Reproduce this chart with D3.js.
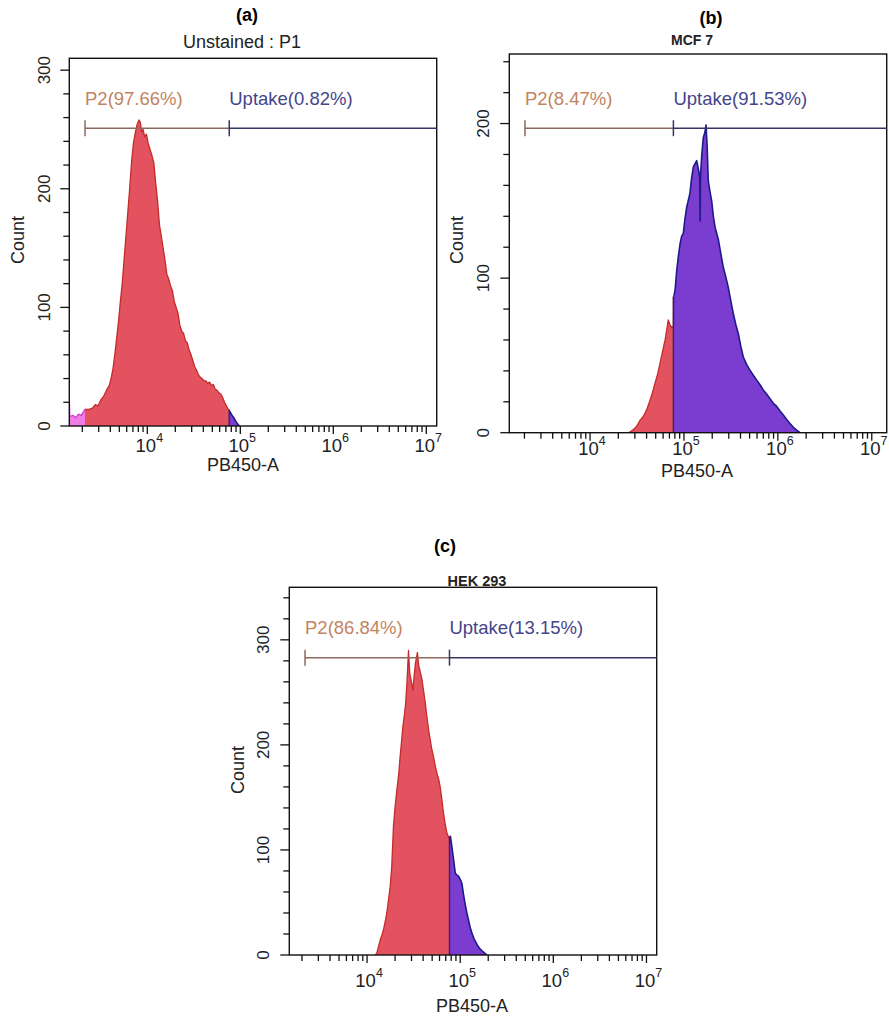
<!DOCTYPE html>
<html>
<head>
<meta charset="utf-8">
<script src="https://cdn.jsdelivr.net/npm/d3@7"></script>
<style>
  body { margin: 0; background: #fff; }
  svg { display: block; }
  text { font-family: "Liberation Sans", Arial, sans-serif; }
</style>
</head>
<body>
<svg id="fig" width="889" height="1018"></svg>
<script>
// ---------- data: PB450-A histograms (log10 intensity, event count) ----------
const logA = [3.161,3.166,3.20,3.23,3.26,3.29,3.33,3.37,3.41,3.44,3.47,3.50,3.53,3.56,3.59,3.61,3.63,3.65,3.67,3.69,3.71,3.73,3.75,3.77,3.79,3.81,3.83,3.85,3.87,3.89,3.91,3.925,3.94,3.955,3.97,3.99,4.01,4.03,4.05,4.07,4.09,4.11,4.13,4.15,4.17,4.19,4.21,4.23,4.25,4.27,4.29,4.31,4.33,4.35,4.37,4.39,4.41,4.43,4.45,4.47,4.49,4.51,4.53,4.55,4.57,4.59,4.61,4.63,4.65,4.67,4.69,4.71,4.73,4.75,4.77,4.79,4.81,4.83,4.85,4.87,4.89,4.91,4.93,4.95,4.97,4.99];
const countA = [25,8,9,7,10,9,14,14,15,18,17,22,25,30,34,40,48,60,74,88,105,120,140,160,180,200,222,238,247,254,258,256,248,250,244,246,238,233,228,222,205,190,170,160,150,140,128,124,118,114,105,100,95,85,80,78,72,70,64,60,55,50,47,43,41,40,38,38,36,37,34,35,31,30,28,27,24,20,17,14,12,9,7,4,2,0];

const logB = [4.41,4.425,4.45,4.479,4.505,4.532,4.56,4.585,4.61,4.639,4.665,4.692,4.72,4.745,4.77,4.799,4.815,4.833,4.85,4.869,4.887,4.888,4.905,4.923,4.94,4.958,4.975,4.993,5.01,5.029,5.045,5.064,5.08,5.1,5.118,5.136,5.155,5.168,5.172,5.176,5.19,5.206,5.222,5.235,5.247,5.259,5.277,5.295,5.313,5.331,5.348,5.366,5.392,5.419,5.445,5.472,5.5,5.526,5.552,5.579,5.605,5.632,5.668,5.703,5.74,5.775,5.81,5.845,5.88,5.916,5.952,5.988,6.023,6.058,6.094,6.129,6.165,6.2,6.236];
const countB = [0,0.5,1.5,3,5,8,10,12.5,16,21,26,32,38,45,52,60,66,73,70,68,69,88,92,105,114,122,127,129,138,146,150,155,164,172,174,176,170,165,137,166,180,191,194,199,185,163,156,150,140,133,129,125,116,107,101,94,85,77,70,64,56,49,44,40.5,37,34,31,27.6,25,22,19,17,14,11.4,8.5,6,3.5,1.7,0];

const logC = [4.09,4.105,4.12,4.14,4.16,4.176,4.195,4.212,4.23,4.248,4.265,4.283,4.30,4.32,4.34,4.355,4.37,4.384,4.40,4.415,4.43,4.445,4.458,4.47,4.492,4.505,4.52,4.541,4.555,4.57,4.59,4.606,4.625,4.642,4.66,4.678,4.695,4.713,4.73,4.75,4.77,4.785,4.80,4.821,4.84,4.857,4.872,4.885,4.895,4.911,4.93,4.947,4.965,4.982,5.00,5.019,5.035,5.054,5.072,5.09,5.108,5.126,5.15,5.18,5.21,5.234,5.26,5.288];
const countC = [0,2,7,14,19,24,32,40,52,65,84,122,140,157,172,189,203,217,228,240,262,290,268,263,252,265,278,288,275,270,262,252,240,227,215,205,196,189,181,173,167,160,150,135,124,116,113,110,113,103,90,78,76,75,72,68,58,48,40,33,26,21,15,10,6,4,2,0];

// gates: [P2 start, Uptake start] in log10 units, and the count level of each gate bar
const gatesA = [3.33, 4.881];
const gatesB = [3.307, 4.8875];
const gatesC = [3.334, 4.885];
const gateLevels = [251, 197, 283];
const p2Labels = ["P2(97.66%)", "P2(8.47%)", "P2(86.84%)"];
const uptakeLabels = ["Uptake(0.82%)", "Uptake(91.53%)", "Uptake(13.15%)"];

// axes
const xDomains = [[3.161, 7.112], [3.14, 7.159], [3.165, 7.11]];
const yMaxes = [310, 245, 350];
const decadeLabels = [4, 5, 6, 7];
const panelTags = ["(a)", "(b)", "(c)"];
const subtitles = ["Unstained : P1", "MCF 7", "HEK 293"];

// ---------- layout ----------
const layouts = [
  { left: 69.3, top: 58.3, w: 367.4, h: 367.7, tag: [247, 15], sub: [242, 42], subBold: false, subSize: 18,
    count: [18, 240], yLabX: 44, xLabY: 445, xTitle: [243, 465] },
  { left: 509.3, top: 54, w: 377.4, h: 378.7, tag: [711, 18], sub: [692, 40], subBold: true, subSize: 14,
    count: [457, 240], yLabX: 483, xLabY: 448, xTitle: [697, 471] },
  { left: 289.3, top: 587.3, w: 367.4, h: 367.7, tag: [445, 546], sub: [477, 581], subBold: true, subSize: 14.5,
    count: [238, 770], yLabX: 263, xLabY: 980, xTitle: [472, 1006] }
];

const colors = {
  pinkFill: "#f07ce6", pinkLine: "#d23ccc",
  redFill: "#e3525f", redLine: "#c42b2b",
  purpleFill: "#7a3dd0", purpleLine: "#1d1a8a",
  p2Text: "#c2845f", p2Gate: "#8e6a5c",
  upText: "#45458a", upGate: "#343466",
  axis: "#111"
};

const svg = d3.select("#fig");
const panels = [
  { logX: logA, counts: countA, gates: gatesA },
  { logX: logB, counts: countB, gates: gatesB },
  { logX: logC, counts: countC, gates: gatesC }
];

// count on the histogram outline at a given log position
function countAt(xs, cs, v) {
  const k = d3.bisectRight(xs, v);
  if (k <= 0) return cs[0];
  if (k >= xs.length) return cs[cs.length - 1];
  return Math.max(cs[k - 1], cs[k]);
}

panels.forEach((p, i) => {
  const L = layouts[i];
  const g = svg.append("g").attr("transform", `translate(${L.left},${L.top})`);
  const x = d3.scaleLinear().domain(xDomains[i]).range([0, L.w]);
  const y = d3.scaleLinear().domain([0, yMaxes[i]]).range([L.h, 0]);
  const pts = p.logX.map((v, k) => [v, p.counts[k]]);

  // one clip region per population: outside gates, P2, Uptake
  const edges = [xDomains[i][0], p.gates[0], p.gates[1], xDomains[i][1]];
  const regionStyles = [
    [colors.pinkFill, colors.pinkLine],
    [colors.redFill, colors.redLine],
    [colors.purpleFill, colors.purpleLine]
  ];
  const area = d3.area().x(d => x(d[0])).y0(y(0)).y1(d => y(d[1]));
  const line = d3.line().x(d => x(d[0])).y(d => y(d[1]));
  regionStyles.forEach((st, r) => {
    const cid = `clip-${i}-${r}`;
    g.append("clipPath").attr("id", cid).append("rect")
      .attr("x", x(edges[r])).attr("y", -2)
      .attr("width", Math.max(0, x(edges[r + 1]) - x(edges[r]))).attr("height", L.h + 2);
    const grp = g.append("g").attr("clip-path", `url(#${cid})`);
    grp.append("path").datum(pts).attr("d", area).attr("fill", st[0]);
    grp.append("path").datum(pts).attr("d", line).attr("fill", "none")
      .attr("stroke", st[1]).attr("stroke-width", r === 2 ? 1.6 : 1.3).attr("stroke-linejoin", "round");
  });

  // boundary between P2 and Uptake populations
  const bCount = countAt(p.logX, p.counts, p.gates[1]);
  g.append("line")
    .attr("x1", x(p.gates[1])).attr("x2", x(p.gates[1]))
    .attr("y1", y(bCount)).attr("y2", y(0))
    .attr("stroke", "#3a1f6e").attr("stroke-width", 1.4);

  // frame
  g.append("rect").attr("width", L.w).attr("height", L.h)
    .attr("fill", "none").attr("stroke", colors.axis).attr("stroke-width", 1.4);

  // y ticks every 20, labels every 100
  const yTicks = d3.range(0, yMaxes[i] + 0.001, 20);
  g.selectAll(null).data(yTicks).join("line")
    .attr("x1", d => d % 100 === 0 ? -9 : -6).attr("x2", 0)
    .attr("y1", d => y(d)).attr("y2", d => y(d))
    .attr("stroke", colors.axis).attr("stroke-width", 1.3);
  yTicks.filter(d => d % 100 === 0).forEach(d => {
    svg.append("text")
      .attr("transform", `translate(${L.yLabX},${L.top + y(d)}) rotate(-90)`)
      .attr("text-anchor", "middle").attr("dominant-baseline", "central")
      .attr("font-size", 17).attr("fill", "#222").text(d);
  });

  // x ticks: log decades with 2..9 minor ticks
  const xTicks = [];
  for (let dec = 3; dec <= 7; dec++) {
    for (let m = 1; m <= 9; m++) {
      const v = dec + Math.log10(m);
      if (v >= xDomains[i][0] - 1e-6 && v <= xDomains[i][1]) xTicks.push({ v, major: m === 1 });
    }
  }
  g.selectAll(null).data(xTicks).join("line")
    .attr("x1", d => x(d.v)).attr("x2", d => x(d.v))
    .attr("y1", L.h).attr("y2", d => L.h + (d.major ? 8 : 6))
    .attr("stroke", colors.axis).attr("stroke-width", 1.3);
  decadeLabels.forEach(d => {
    const t = svg.append("text")
      .attr("x", L.left + x(d) + 2).attr("y", L.xLabY)
      .attr("text-anchor", "middle").attr("dominant-baseline", "central")
      .attr("font-size", 18.5).attr("fill", "#222");
    t.append("tspan").text("10");
    t.append("tspan").attr("font-size", 12.5).attr("dy", -7).text(d);
  });

  // axis titles
  svg.append("text")
    .attr("transform", `translate(${L.count[0]},${L.count[1]}) rotate(-90)`)
    .attr("text-anchor", "middle").attr("dominant-baseline", "central")
    .attr("font-size", 18).attr("fill", "#222").text("Count");
  svg.append("text")
    .attr("x", L.xTitle[0]).attr("y", L.xTitle[1])
    .attr("text-anchor", "middle").attr("dominant-baseline", "central")
    .attr("font-size", 18).attr("fill", "#222").text("PB450-A");

  // panel tag and subtitle
  svg.append("text").attr("x", L.tag[0]).attr("y", L.tag[1])
    .attr("text-anchor", "middle").attr("dominant-baseline", "central")
    .attr("font-family", "'Liberation Serif', 'Times New Roman', serif")
    .attr("font-weight", "bold").attr("font-size", 18).attr("fill", "#000")
    .text(panelTags[i]);
  svg.append("text").attr("x", L.sub[0]).attr("y", L.sub[1])
    .attr("text-anchor", "middle").attr("dominant-baseline", "central")
    .attr("font-weight", L.subBold ? "bold" : "normal")
    .attr("font-size", L.subSize).attr("fill", "#222").text(subtitles[i]);

  // gates
  const gy = y(gateLevels[i]);
  const gx0 = x(p.gates[0]), gx1 = x(p.gates[1]);
  g.append("line").attr("x1", gx0).attr("x2", gx1).attr("y1", gy).attr("y2", gy)
    .attr("stroke", colors.p2Gate).attr("stroke-width", 1.5);
  g.append("line").attr("x1", gx1).attr("x2", L.w).attr("y1", gy).attr("y2", gy)
    .attr("stroke", colors.upGate).attr("stroke-width", 1.5);
  g.append("line").attr("x1", gx0).attr("x2", gx0).attr("y1", gy - 8).attr("y2", gy + 8)
    .attr("stroke", colors.p2Gate).attr("stroke-width", 1.5);
  g.append("line").attr("x1", gx1).attr("x2", gx1).attr("y1", gy - 8).attr("y2", gy + 8)
    .attr("stroke", colors.upGate).attr("stroke-width", 1.5);
  g.append("text").attr("x", gx0).attr("y", gy - 30)
    .attr("dominant-baseline", "central").attr("font-size", 18.5)
    .attr("fill", colors.p2Text).text(p2Labels[i]);
  g.append("text").attr("x", gx1).attr("y", gy - 30)
    .attr("dominant-baseline", "central").attr("font-size", 18.5)
    .attr("fill", colors.upText).text(uptakeLabels[i]);
});
</script>
</body>
</html>
